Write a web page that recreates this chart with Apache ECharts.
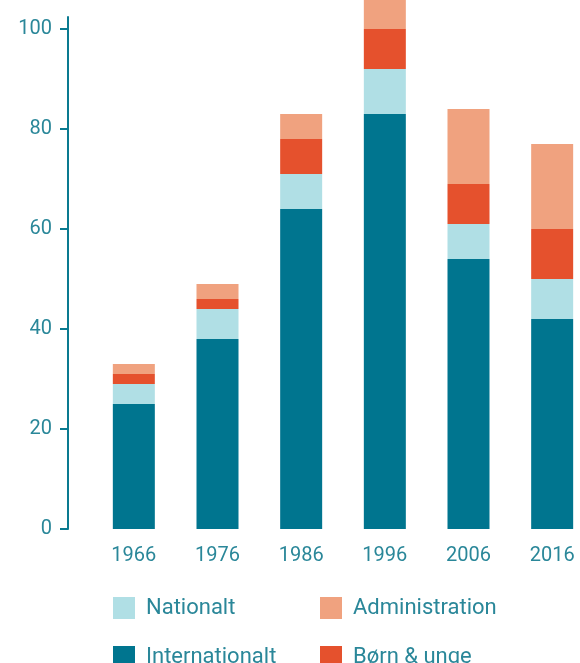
<!DOCTYPE html>
<html>
<head>
<meta charset="utf-8">
<script src="https://cdn.jsdelivr.net/npm/echarts@6/dist/echarts.min.js"></script>
<style>
  html, body { margin: 0; padding: 0; background: #fff; }
  #chart { width: 580px; height: 663px; }
</style>
</head>
<body>
<div id="chart"></div>
<script>
var years = ['1966', '1976', '1986', '1996', '2006', '2016'];
var internationalt = [25, 38, 64, 83, 54, 42];
var nationalt = [4, 6, 7, 9, 7, 8];
var bornUnge = [2, 2, 7, 8, 8, 10];
var administration = [2, 3, 5, 7, 15, 17];
var yTicks = [0, 20, 40, 60, 80, 100];

var TEAL = '#0a7a90';
var TEXT = '#2a8799';
var FONT = 'Roboto';

var colors = {
    'Internationalt': '#00758f',
    'Nationalt': '#b0dfe5',
    'Børn & unge': '#e5512d',
    'Administration': '#f0a27f'
};

function barSeries(name, data) {
    return {
        name: name,
        type: 'bar',
        stack: 'total',
        barWidth: 42,
        clip: false,
        itemStyle: { color: colors[name] },
        data: data
    };
}

function legendAt(name, left, top) {
    return {
        data: [name],
        left: left,
        top: top,
        itemWidth: 22,
        itemHeight: 22,
        itemGap: 0,
        icon: 'rect',
        selectedMode: false,
        textStyle: { color: TEXT, fontSize: 22, fontFamily: FONT, padding: [0, 0, 0, 6] }
    };
}

var chart = echarts.init(document.getElementById('chart'));
chart.setOption({
    animation: false,
    textStyle: { fontFamily: FONT },
    grid: {
        left: 92, top: 17, width: 502, height: 512,
        containLabel: false, outerBoundsMode: 'none'
    },
    legend: [
        legendAt('Nationalt', 108, 592),
        legendAt('Administration', 315, 592),
        legendAt('Internationalt', 108, 641),
        legendAt('Børn & unge', 315, 641)
    ],
    xAxis: {
        type: 'category',
        data: years,
        axisLine: { show: false },
        axisTick: { show: false },
        axisLabel: { color: TEXT, fontSize: 20, fontFamily: FONT, margin: 17 }
    },
    yAxis: {
        type: 'value',
        min: 0,
        max: 102.4,
        offset: 24,
        splitLine: { show: false },
        axisLine: { show: true, lineStyle: { color: TEAL, width: 2 } },
        axisTick: { show: true, length: 8, customValues: yTicks, lineStyle: { color: TEAL, width: 2 } },
        axisLabel: { color: TEXT, fontSize: 20, fontFamily: FONT, margin: 16, customValues: yTicks }
    },
    series: [
        barSeries('Internationalt', internationalt),
        barSeries('Nationalt', nationalt),
        barSeries('Børn & unge', bornUnge),
        barSeries('Administration', administration)
    ]
});
</script>
</body>
</html>
